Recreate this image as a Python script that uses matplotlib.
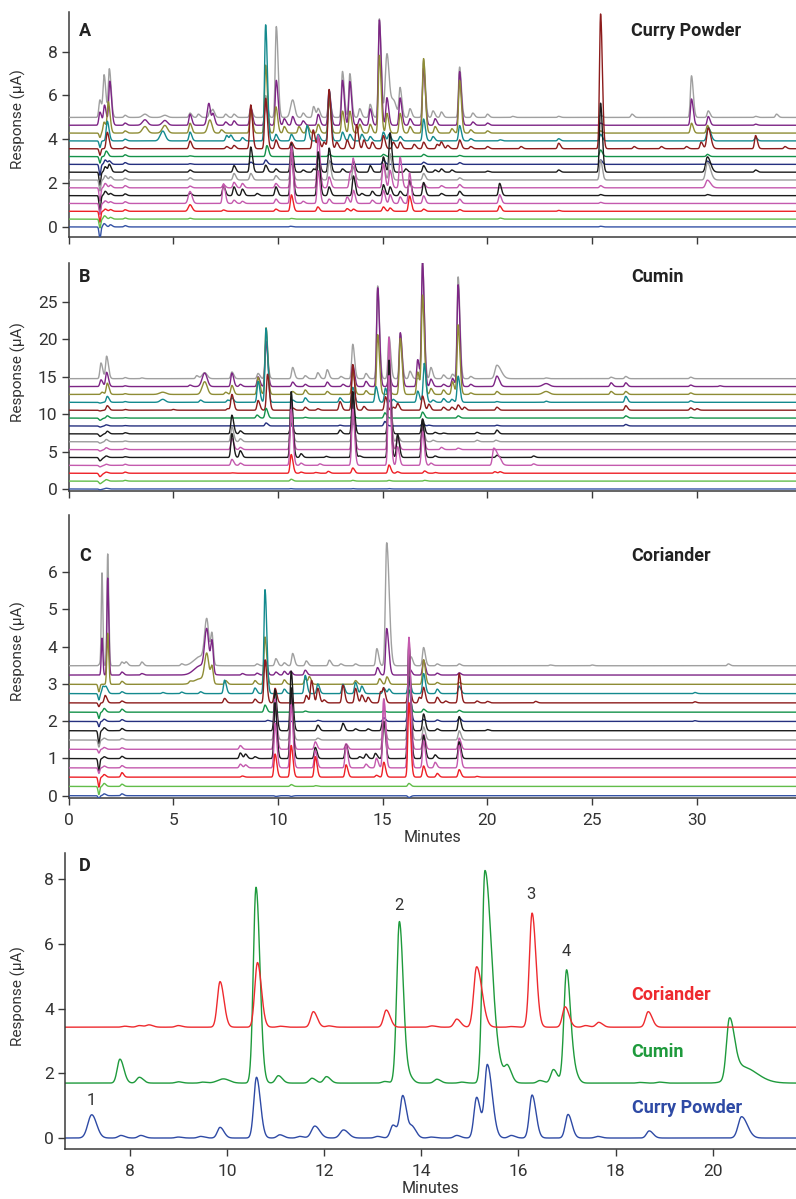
import numpy as np
import matplotlib
matplotlib.use("Agg")
import matplotlib.pyplot as plt

plt.rcParams['font.family'] = ['Roboto', 'DejaVu Sans']

# ---------------- data (peak tables) ----------------
# each peak: (retention time [min], height [uA], optional left sigma, optional right sigma)
TRACE_COLORS = ['#3553a5', '#62bd4a', '#ee2026', '#c45aae', '#1b1b1b', '#c45aae', '#9c9c9c',
                '#1b1b1b', '#25307f', '#14924a', '#8c1c1c', '#148a8e', '#8e8c35', '#7d2585', '#a0a0a0']

CURRY_OFFSET_STEP = 0.357
CURRY_TRACES = [
    [(1.5, -0.55, .04, .04), (1.7, 0.15), (2.0, 0.1), (2.7, 0.06), (10.6, 0.03), (25.4, 0.03)],
    [(1.5, -0.4, .04, .04), (1.72, 0.15), (2.0, 0.08), (2.7, 0.05), (5.8, 0.04), (10.64, 0.03), (20.6, 0.05)],
    [(1.5, -0.5, .04, .04), (1.75, 0.1), (2.0, 0.08), (2.7, 0.07), (5.8, 0.3, .08, .1), (7.4, 0.06), (9.9, 0.1),
     (10.64, 0.75), (11.9, 0.2), (13.3, 0.12), (13.6, 0.1), (15.03, 0.2), (15.35, 0.15), (16.28, 0.7),
     (16.95, 0.1), (18.67, 0.08), (20.58, 0.25), (23.4, 0.04)],
    [(1.5, -0.5, .04, .04), (1.75, 0.12), (2.0, 0.08), (2.7, 0.08), (5.8, 0.55, .08, .1), (7.4, 0.9), (7.9, 0.15),
     (8.3, 0.1), (9.9, 0.2), (10.64, 2.4), (11.2, 0.1), (11.92, 1.5), (12.44, 0.2), (13.3, 0.3), (13.6, 0.6),
     (14.5, 0.15), (15.03, 0.6), (15.35, 0.4), (15.83, 0.3), (16.28, 1.4), (16.95, 0.35), (18.67, 0.2),
     (20.58, 0.4), (25.4, 0.05)],
    [(1.5, -0.75, .04, .04), (1.75, 0.2), (2.0, 0.1), (2.7, 0.08), (5.8, 0.12), (7.4, 0.45), (7.9, 0.4), (8.3, 0.3),
     (9.0, 0.1), (9.9, 0.4), (10.64, 2.0), (11.92, 2.0), (12.44, 0.4), (13.6, 0.9), (14.0, 0.1), (14.5, 0.2),
     (15.03, 0.5), (15.35, 0.4), (15.83, 0.2), (16.28, 0.7), (16.95, 0.6), (17.8, 0.1), (18.67, 0.2),
     (20.58, 0.56), (25.4, 0.05), (30.5, 0.05)],
    [(1.5, -0.6, .04, .04), (1.75, 0.2), (2.0, 0.12), (2.7, 0.1), (5.8, 0.08), (7.4, 0.15), (7.9, 0.25), (8.3, 0.2),
     (9.9, 0.2), (10.64, 1.9), (11.92, 2.4), (12.44, 0.5), (13.45, 0.7), (13.6, 1.2), (15.03, 1.1), (15.35, 0.8),
     (15.83, 1.4), (16.28, 0.2), (16.95, 0.2), (17.8, 0.1), (18.67, 0.15), (25.4, 0.1), (30.5, 0.35, .08, .15)],
    [(1.5, -0.5, .04, .04), (1.75, 0.2), (2.0, 0.15), (2.7, 0.08), (5.8, 0.1), (7.9, 0.3), (8.7, 0.3), (9.9, 0.2),
     (10.64, 1.0), (11.92, 0.7), (12.44, 0.9), (13.6, 0.6), (15.03, 0.7), (15.35, 1.2), (16.95, 0.3),
     (18.67, 0.1), (25.4, 0.9), (30.5, 0.8, .08, .15)],
    [(1.5, -0.6, .04, .04), (1.75, 0.25), (1.95, 0.35), (2.7, 0.1), (5.8, 0.1), (7.9, 0.3), (8.7, 1.15),
     (9.41, 0.32), (9.9, 0.15), (10.64, 1.3), (11.2, 0.1), (11.7, 0.15), (11.92, 0.8), (12.44, 1.1),
     (13.08, 0.15), (13.6, 0.5), (14.4, 0.3), (15.03, 0.7), (15.35, 1.8), (16.1, 0.15), (16.95, 0.3),
     (17.5, 0.1), (17.8, 0.15), (18.3, 0.1), (20.0, 0.05), (23.4, 0.1), (25.4, 3.15), (30.5, 0.7, .08, .15),
     (32.8, 0.1)],
    [(1.5, -0.5, .04, .04), (1.75, 0.2), (1.95, 0.15), (2.7, 0.08), (5.8, 0.03), (8.7, 0.1), (9.41, 0.2),
     (12.44, 0.15), (15.03, 0.2), (16.95, 0.1), (18.67, 0.08), (25.4, 0.2), (30.5, 0.15)],
    [(1.5, -0.3, .04, .04), (1.8, 0.25), (2.7, 0.08), (5.8, 0.03), (9.47, 0.5), (12.44, 0.1), (15.03, 0.1),
     (16.95, 0.1), (18.67, 0.05), (25.4, 0.3), (30.5, 0.1)],
    [(1.5, -0.3, .04, .04), (1.85, 0.75), (2.7, 0.08), (5.8, 0.35), (7.55, 0.1), (7.9, 0.15), (8.7, 2.0),
     (9.41, 2.3), (9.9, 0.4), (10.64, 0.3), (11.68, 0.86), (11.92, 0.5), (12.2, 0.3), (12.44, 2.7), (12.8, 0.3),
     (13.3, 0.4), (13.75, 1.1), (14.1, 0.4), (14.5, 0.3), (15.03, 0.6), (15.5, 0.3), (15.83, 0.3), (16.5, 0.2),
     (16.95, 0.3), (17.6, 0.2), (17.8, 0.3), (18.1, 0.15), (18.67, 0.4), (19.2, 0.1), (20.0, 0.1), (21.6, 0.1),
     (23.4, 0.25), (25.4, 6.15), (27.0, 0.1), (28.3, 0.1), (29.5, 0.1), (30.2, 0.3), (30.54, 0.95, .07, .12),
     (32.8, 0.6), (34.2, 0.1)],
    [(1.5, -0.3, .04, .04), (1.85, 0.9), (2.7, 0.08), (4.5, 0.45, .12, .12), (5.8, 0.4), (7.55, 0.25),
     (7.75, 0.25), (8.3, 0.15), (9.41, 5.3), (9.9, 0.3), (10.64, 0.3), (11.39, 0.7), (11.92, 0.3), (12.44, 2.3),
     (13.08, 0.4), (13.43, 0.3), (14.0, 0.3), (14.4, 0.2), (15.03, 0.4), (15.3, 0.3), (15.83, 0.2),
     (16.95, 1.0), (17.4, 0.2), (18.67, 0.7), (19.2, 0.1), (20.6, 0.05), (23.4, 0.1), (25.4, 0.3),
     (30.54, 0.6, .07, .12), (32.8, 0.15)],
    [(1.5, -0.2, .04, .04), (1.7, 0.5), (1.9, 1.4), (2.7, 0.1), (3.65, 0.3, .12, .12), (4.6, 0.35, .12, .12),
     (5.8, 0.45), (6.75, 0.6, .1, .1), (7.3, 0.15), (8.7, 1.0), (9.41, 3.1), (9.9, 1.2), (10.3, 0.3),
     (11.0, 0.3), (11.4, 0.35), (11.92, 0.4), (12.44, 1.5), (13.08, 1.0), (13.43, 1.0), (13.9, 0.4),
     (14.4, 0.4), (14.84, 3.55), (15.2, 0.9), (15.83, 0.9), (16.3, 0.3), (16.95, 3.4), (17.5, 0.3),
     (18.3, 0.2), (18.67, 2.4), (19.2, 0.15), (20.0, 0.1), (25.4, 0.1), (29.74, 0.45), (30.5, 0.35)],
    [(1.5, 0.6), (1.72, 0.9), (1.97, 2.0), (2.7, 0.1), (3.65, 0.25, .12, .12), (4.6, 0.22, .12, .12),
     (5.8, 0.5), (6.7, 1.0, .08, .08), (6.9, 0.5), (7.5, 0.15), (7.9, 0.2), (8.7, 0.8), (9.41, 1.0),
     (9.92, 2.05), (10.3, 0.3), (10.7, 0.4), (11.2, 0.2), (11.92, 0.5), (12.44, 1.6), (13.08, 2.05),
     (13.43, 2.0), (13.9, 0.3), (14.4, 0.75), (14.84, 4.8), (15.2, 1.26), (15.83, 1.25), (16.3, 0.3),
     (16.95, 2.6), (17.5, 0.3), (18.67, 2.45), (19.3, 0.15), (20.0, 0.1), (25.4, 0.1), (29.74, 1.2),
     (30.54, 0.4), (32.8, 0.05)],
    [(1.5, 0.8), (1.7, 1.9), (1.95, 2.2), (2.7, 0.1), (3.65, 0.15, .12, .12), (4.6, 0.1, .12, .12),
     (5.8, 0.2), (6.2, 0.15), (6.75, 0.3), (6.9, 0.3), (7.5, 0.15), (7.9, 0.15), (8.7, 0.4), (9.41, 1.0),
     (9.92, 4.15), (10.7, 0.8, .1, .1), (11.2, 0.2), (11.7, 0.5), (11.92, 0.4), (12.44, 1.0), (13.08, 2.1),
     (13.43, 2.0), (13.9, 0.4), (14.4, 0.6), (14.84, 4.5), (15.2, 2.8, .08, .1), (15.5, 0.8, .15, .15),
     (15.83, 1.3), (16.3, 0.4), (16.95, 2.6), (17.4, 0.3), (17.8, 0.25), (18.67, 2.3), (19.3, 0.2),
     (20.0, 0.15), (21.2, 0.05), (23.4, 0.05), (25.4, 0.1), (26.9, 0.15), (29.74, 1.9), (30.54, 0.3),
     (32.8, 0.05), (33.8, 0.15)],
]

CUMIN_OFFSET_STEP = 1.053
CUMIN_TRACES = [
    [(1.5, -0.1), (1.8, 0.1), (10.6, 0.05), (13.57, 0.05), (15.3, 0.05)],
    [(1.5, -0.35), (1.8, 0.2), (2.7, 0.1), (10.63, 0.25), (13.57, 0.1), (15.3, 0.1), (17.0, 0.1)],
    [(1.5, -0.45), (1.8, 0.15), (2.7, 0.15), (7.8, 0.05), (10.63, 2.5), (11.1, 0.15), (11.8, 0.1),
     (12.4, 0.25), (13.57, 0.7), (15.3, 1.1), (15.7, 0.2), (17.0, 0.3), (17.5, 0.1), (20.35, 0.2), (20.6, 0.2)],
    [(1.5, -0.2), (1.8, 0.15), (2.7, 0.15), (7.8, 0.8), (8.2, 0.3), (10.63, 7.5), (11.1, 0.3), (12.0, 0.2),
     (13.57, 7.5), (15.3, 12.0), (15.71, 2.5), (16.9, 4.5), (17.3, 0.3), (20.3, 2.3, .06, .2), (20.6, 0.3),
     (22.2, 0.2)],
    [(1.5, -0.45), (1.8, 0.2), (2.7, 0.1), (7.8, 3.2), (8.2, 0.9), (10.63, 8.8), (11.1, 0.5), (12.3, 0.15),
     (13.57, 8.8), (13.9, 0.2), (15.3, 13.0), (15.71, 3.1), (16.9, 5.0), (17.5, 0.2), (20.45, 0.3), (22.2, 0.2)],
    [(1.5, -0.2), (1.8, 0.25), (2.7, 0.15), (7.8, 1.5), (8.2, 0.3), (10.63, 6.5), (13.57, 6.0), (15.3, 15.0),
     (15.71, 1.5), (16.9, 3.0), (17.8, 0.3), (18.6, 0.2)],
    [(1.5, -0.2), (1.8, 0.3), (2.7, 0.1), (7.8, 2.0), (8.2, 0.4), (10.63, 3.0), (13.57, 3.0), (15.3, 12.0),
     (15.71, 0.8), (16.9, 2.0), (17.4, 0.2), (19.5, 0.2), (20.4, 0.2)],
    [(1.5, -0.35), (1.85, 0.35), (2.7, 0.15), (7.8, 2.5), (8.2, 0.4), (10.63, 1.5), (12.96, 0.5), (13.57, 5.6),
     (15.3, 10.0), (16.9, 2.0), (17.5, 0.2), (17.9, 0.1), (19.5, 0.2), (20.45, 0.5)],
    [(1.5, -0.15), (1.8, 0.15), (2.7, 0.05), (9.43, 0.4), (12.96, 0.1), (13.57, 0.3), (15.1, 0.6),
     (16.9, 0.3), (17.2, 0.1), (20.45, 0.1), (26.6, 0.2)],
    [(1.5, -0.3), (1.85, 0.3), (2.7, 0.05), (9.0, 0.4), (9.43, 1.3), (11.3, 0.1), (13.57, 0.4), (15.1, 0.7),
     (16.9, 0.8), (18.6, 0.3), (26.6, 0.3), (29.7, 0.1)],
    [(1.5, -0.1), (1.85, 0.6), (2.7, 0.1), (5.0, 0.1), (7.6, 0.2), (7.8, 2.1), (9.05, 1.3), (9.5, 4.8),
     (10.7, 0.3), (11.3, 0.4), (11.9, 0.2), (12.96, 1.15), (13.57, 6.1), (14.1, 0.5), (15.13, 1.8),
     (15.5, 0.4), (15.71, 0.9), (16.9, 1.9), (17.2, 0.8), (17.9, 0.4), (18.3, 0.4), (18.6, 0.7), (18.9, 0.4),
     (20.45, 0.4), (26.6, 0.6), (29.7, 0.3), (30.0, 0.2)],
    [(1.5, -0.1), (1.85, 0.8), (2.7, 0.1), (4.5, 0.4, .12, .12), (6.3, 0.3), (7.6, 0.3), (7.8, 0.6),
     (9.05, 2.8), (9.43, 9.9), (10.7, 0.3), (11.3, 0.6), (12.96, 0.6), (13.57, 2.0), (14.68, 2.1),
     (15.13, 1.9), (15.5, 0.4), (16.67, 1.5), (16.98, 5.2), (17.4, 0.3), (17.9, 0.5), (18.3, 0.4),
     (18.6, 3.5), (20.45, 0.1), (22.8, 0.15), (26.6, 0.8), (29.7, 0.2)],
    [(1.6, 0.3), (1.85, 1.5), (2.7, 0.1), (4.5, 0.3, .15, .15), (6.5, 1.7, .12, .12), (7.5, 0.3), (7.8, 1.2),
     (9.05, 2.3), (9.43, 8.9), (10.7, 0.4), (11.3, 0.6), (12.35, 0.4), (13.57, 3.0), (14.2, 0.5),
     (14.76, 8.0), (15.3, 0.6), (15.84, 7.5), (16.67, 3.0), (16.9, 13.2), (17.3, 0.8), (17.9, 0.6),
     (18.33, 1.7), (18.6, 9.3), (19.2, 0.2), (20.45, 0.4), (22.8, 0.4, .15, .15), (25.9, 0.4), (26.6, 0.4),
     (29.7, 0.2)],
    [(1.55, 0.9), (1.82, 1.9), (2.7, 0.1), (5.8, 0.2), (6.5, 1.8, .12, .12), (7.8, 1.8), (8.2, 0.3),
     (9.05, 1.3), (9.43, 6.0), (10.7, 0.6), (11.3, 0.3), (12.35, 0.6), (13.1, 0.3), (13.57, 2.9), (14.2, 0.7),
     (14.76, 13.2), (15.3, 1.5), (15.84, 7.2), (16.67, 3.6), (16.9, 16.5), (17.3, 1.0), (17.9, 0.3),
     (18.33, 1.1), (18.6, 13.6), (19.2, 0.3), (20.45, 1.4, .08, .12), (22.8, 0.4, .15, .15), (25.9, 0.5),
     (26.6, 0.5), (29.7, 0.2), (31.1, 0.1)],
    [(1.55, 2.1), (1.82, 3.0), (2.7, 0.15), (3.5, 0.1), (6.12, 0.4), (6.5, 0.8, .12, .12), (7.8, 0.9),
     (9.05, 0.7), (9.43, 5.0), (10.7, 1.5), (11.3, 0.4), (11.9, 0.8), (12.35, 1.2), (13.0, 0.3), (13.57, 4.6),
     (14.2, 0.7), (14.76, 12.4), (15.3, 5.6), (15.84, 6.0), (16.3, 1.0), (16.9, 15.5), (17.3, 1.5),
     (17.9, 0.5), (18.33, 0.6), (18.6, 13.6), (19.2, 0.3), (20.45, 1.8, .09, .2), (22.8, 0.1), (25.9, 0.2),
     (26.6, 0.3), (29.7, 0.2)],
]

CORIANDER_OFFSET_STEP = 0.249
CORIANDER_TRACES = [
    [(1.45, -0.08, .04, .04), (1.7, 0.05), (2.55, 0.05), (9.9, -0.02), (10.63, -0.02), (16.25, -0.05)],
    [(1.45, -0.22, .04, .04), (1.7, 0.08), (2.55, 0.06), (10.63, 0.05), (11.8, 0.02), (16.25, 0.08)],
    [(1.45, -0.27, .04, .04), (1.7, 0.07), (2.55, 0.12), (8.3, 0.03), (9.86, 0.62), (10.63, 0.85),
     (11.78, 0.55), (13.25, 0.33), (14.7, 0.05), (15.05, 0.4), (16.25, 2.0), (16.95, 0.3), (17.6, 0.1),
     (18.65, 0.2), (19.5, 0.02)],
    [(1.45, -0.15, .04, .04), (1.7, 0.05), (2.55, 0.06), (8.2, 0.1), (8.45, 0.08), (9.86, 1.2), (10.63, 1.7),
     (11.78, 0.47), (13.25, 0.6), (14.2, 0.1), (14.7, 0.26), (15.05, 1.85), (16.25, 3.5), (16.95, 0.73),
     (17.5, 0.15), (18.65, 0.6)],
    [(1.45, -0.33, .04, .04), (1.7, 0.05), (2.55, 0.06), (8.2, 0.15), (8.45, 0.12), (8.9, 0.05), (9.86, 1.5),
     (10.63, 1.9), (11.78, 0.3), (13.25, 0.36), (13.9, 0.05), (14.2, 0.12), (14.65, 0.14), (15.05, 1.0),
     (16.25, 3.1), (16.95, 0.62), (17.5, 0.1), (18.65, 0.45)],
    [(1.45, -0.1, .04, .04), (1.7, 0.05), (2.55, 0.04), (8.2, 0.1), (9.86, 1.35), (10.63, 1.5), (11.78, 0.2),
     (13.25, 0.15), (15.05, 1.35), (16.25, 3.0), (16.95, 0.4), (18.65, 0.3)],
    [(1.45, -0.19, .04, .04), (1.7, 0.05), (2.55, 0.04), (9.86, 0.8), (10.63, 1.2), (11.9, 0.05),
     (15.05, 0.5), (16.25, 2.5), (16.95, 0.35), (18.65, 0.25)],
    [(1.45, -0.35, .04, .04), (1.7, 0.08), (2.55, 0.06), (9.86, 1.1), (10.63, 1.6), (11.9, 0.15), (13.1, 0.2),
     (13.7, 0.05), (14.3, 0.05), (15.0, 0.25), (16.25, 1.8), (16.95, 0.45), (17.6, 0.05), (18.65, 0.38),
     (20.0, 0.03)],
    [(1.45, -0.14, .04, .04), (1.7, 0.06), (2.55, 0.05), (9.5, 0.03), (11.9, 0.03), (15.05, 0.1),
     (16.25, 1.2), (16.95, 0.05), (17.6, 0.04), (18.65, 0.1), (29.9, 0.02)],
    [(1.45, -0.17, .04, .04), (1.7, 0.1), (2.55, 0.08), (9.38, 0.19), (11.3, 0.03), (15.05, 0.04),
     (16.25, 0.6), (16.95, 0.08), (18.65, 0.05)],
    [(1.45, -0.1, .04, .04), (1.75, 0.2), (2.55, 0.05), (7.45, 0.12), (8.9, 0.1), (9.38, 1.15), (9.86, 0.39),
     (11.35, 0.2), (11.6, 0.6), (11.9, 0.39), (12.2, 0.08), (13.1, 0.48), (13.7, 0.39), (14.0, 0.21),
     (14.3, 0.15), (14.9, 0.3), (15.05, 0.34), (16.25, 0.7), (16.75, 0.15), (16.95, 0.41), (17.6, 0.15),
     (18.0, 0.05), (18.65, 0.79), (19.5, 0.05), (20.0, 0.04), (22.3, 0.04), (29.9, 0.03)],
    [(1.45, -0.17, .04, .04), (1.65, 0.2), (1.8, 0.15), (2.55, 0.05), (4.5, 0.03), (5.4, 0.04), (6.3, 0.05),
     (7.45, 0.36), (8.9, 0.15), (9.38, 2.79), (10.3, 0.12), (11.3, 0.49), (11.9, 0.26), (13.1, 0.25),
     (13.7, 0.3), (14.0, 0.2), (15.05, 0.15), (15.3, 0.12), (16.25, 0.4), (16.95, 0.54), (17.6, 0.12),
     (18.65, 0.2), (29.9, 0.03)],
    [(1.45, -0.2, .04, .04), (1.87, 1.37, .04, .05), (2.55, 0.08), (5.8, 0.05), (6.3, 0.15, .3, .3),
     (6.6, 0.75, .1, .1), (6.85, 0.45, .06, .06), (7.5, 0.1), (8.9, 0.1), (9.38, 1.27), (10.3, 0.12),
     (11.3, 0.15), (11.5, 0.2), (13.7, 0.1), (14.85, 0.15), (15.2, 0.2), (16.95, 0.66), (17.6, 0.05),
     (18.65, 0.05)],
    [(1.6, 0.99, .035, .04), (1.87, 2.6, .035, .05), (2.55, 0.08), (3.5, 0.04), (6.3, 0.25, .3, .3),
     (6.6, 1.1, .1, .1), (6.85, 0.85, .06, .06), (8.3, 0.04), (9.0, 0.05), (9.4, 0.4), (9.9, 0.08),
     (10.3, 0.1), (10.6, 0.1), (11.3, 0.13), (14.75, 0.2), (15.19, 1.25, .05, .1), (16.3, 0.15),
     (16.95, 0.4), (17.6, 0.05), (18.65, 0.06)],
    [(1.5, 0.05), (1.6, 2.47, .035, .04), (1.87, 3.0, .035, .05), (2.55, 0.1), (2.75, 0.1), (3.5, 0.1),
     (5.4, 0.05), (6.3, 0.25, .3, .3), (6.6, 1.12, .1, .1), (6.85, 0.8, .06, .06), (9.0, 0.05), (9.9, 0.19),
     (10.3, 0.08), (10.7, 0.33), (11.35, 0.13), (12.45, 0.15), (13.0, 0.05), (13.7, 0.05), (14.72, 0.46),
     (15.19, 3.3, .06, .12), (16.35, 0.24), (16.95, 0.49), (17.6, 0.05), (18.65, 0.05), (23.0, 0.02),
     (25.0, 0.02), (31.5, 0.05)],
]

# Panel D: overlay of the three spices
D_NAMES = ['Curry Powder', 'Cumin', 'Coriander']
D_COLORS = ['#2e4aa5', '#1e9a3c', '#ee2a2e']
D_BASELINES = [0.0, 1.7, 3.43]
D_CURRY = [(7.22, 0.72, .08, .1), (7.82, 0.08), (8.23, 0.08), (9.0, 0.03), (9.46, 0.05), (9.86, 0.33),
           (10.61, 1.88), (11.09, 0.1), (11.5, 0.05), (11.81, 0.37, .07, .1), (12.4, 0.25, .07, .1),
           (13.1, 0.05), (13.42, 0.4), (13.62, 1.3), (13.82, 0.32), (14.2, 0.03), (14.73, 0.08),
           (15.14, 1.26), (15.36, 2.25, .055, .1), (15.85, 0.08), (16.28, 1.33), (17.02, 0.73), (17.63, 0.05),
           (18.69, 0.22), (20.59, 0.66, .07, .12)]
D_CUMIN = [(7.8, 0.74), (8.2, 0.18), (9.0, 0.04), (9.5, 0.03), (9.93, 0.13, .12, .12), (10.6, 6.06),
           (11.06, 0.23), (11.75, 0.15), (12.05, 0.2), (13.25, 0.05), (13.55, 5.0), (13.75, 0.2),
           (14.32, 0.12), (14.83, 0.03), (15.31, 6.55, .055, .13), (15.55, 0.5, .1, .15), (15.78, 0.4),
           (16.44, 0.08), (16.72, 0.42), (16.99, 3.5), (17.15, 0.3), (18.5, 0.02), (18.9, 0.03),
           (20.34, 1.8, .06, .1), (20.6, 0.5, .2, .3)]
D_CORIANDER = [(7.9, 0.03), (8.2, 0.05), (8.4, 0.07), (9.0, 0.05), (9.86, 1.41), (10.63, 2.0), (11.1, 0.03),
               (11.78, 0.48), (12.1, 0.04), (13.28, 0.53), (14.22, 0.04), (14.73, 0.25),
               (15.14, 1.87, .06, .11), (15.85, 0.02), (16.28, 3.53), (16.96, 0.63), (17.38, 0.05),
               (17.65, 0.15), (18.67, 0.48)]
D_PEAK_LABELS = ['1', '2', '3', '4']
D_PEAK_LABEL_POS = [(7.22, 0.93), (13.55, 6.95), (16.26, 7.3), (16.98, 5.55)]

# ---------------- helpers ----------------
def chromatogram(t, peaks, sl_def, sr_def):
    y = np.zeros_like(t)
    for p in peaks:
        rt, h = p[0], p[1]
        sl = p[2] if len(p) > 2 else sl_def
        sr = p[3] if len(p) > 3 else sr_def
        s = np.where(t < rt, sl, sr)
        y += h * np.exp(-0.5 * ((t - rt) / s) ** 2)
    return y

FIG_W, FIG_H = 796, 1199
fig = plt.figure(figsize=(FIG_W / 100, FIG_H / 100), dpi=100)

def add_axes(left, right, top, bottom):
    return fig.add_axes([left / FIG_W, 1 - bottom / FIG_H, (right - left) / FIG_W, (bottom - top) / FIG_H])

TXT = '#333333'
SPINE = '#3a3a3a'

def style(ax):
    for s in ['top', 'right']:
        ax.spines[s].set_visible(False)
    for s in ['left', 'bottom']:
        ax.spines[s].set_color(SPINE)
        ax.spines[s].set_linewidth(1.1)
    ax.tick_params(direction='out', length=5, width=1.0, color=SPINE, labelcolor=TXT, labelsize=12.5, pad=3)

t_full = np.linspace(0, 34.73, 7000)

panels = [
    ('A', 'Curry Powder', CURRY_TRACES, CURRY_OFFSET_STEP, (12, 237), (-0.46, 9.81), [0, 2, 4, 6, 8]),
    ('B', 'Cumin', CUMIN_TRACES, CUMIN_OFFSET_STEP, (263, 491), (-0.27, 30.2), [0, 5, 10, 15, 20, 25]),
    ('C', 'Coriander', CORIANDER_TRACES, CORIANDER_OFFSET_STEP, (515, 798), (-0.062, 7.53), [0, 1, 2, 3, 4, 5, 6]),
]

for idx, (letter, title, traces, step, (top, bottom), ylim, yticks) in enumerate(panels):
    ax = add_axes(68.5, 796, top, bottom)
    style(ax)
    for i, peaks in enumerate(traces):
        y = i * step + chromatogram(t_full, peaks, 0.05, 0.085)
        ax.plot(t_full, y, color=TRACE_COLORS[i], lw=1.0, zorder=100 - i, solid_joinstyle='round')
    ax.set_xlim(0, 34.73)
    ax.set_ylim(*ylim)
    ax.set_yticks(yticks)
    ax.set_xticks([0, 5, 10, 15, 20, 25, 30])
    if idx < 2:
        ax.set_xticklabels([])
    else:
        ax.tick_params(axis='x', pad=6)
        ax.set_xlabel('Minutes', fontsize=11.5, color=TXT, labelpad=1)
    ly = {0: 31, 1: 277, 2: 556}[idx]
    fig.text(79 / FIG_W, 1 - ly / FIG_H, letter, fontsize=13, fontweight='bold', color='#222222',
             ha='left', va='center')
    fig.text(631 / FIG_W, 1 - ly / FIG_H, title, fontsize=13, fontweight='bold', color='#222222',
             ha='left', va='center')
    fig.text(18 / FIG_W, 1 - ((top + bottom) / 2 - 5) / FIG_H, 'Response (µA)', rotation=90, fontsize=11,
             color=TXT, ha='center', va='center')

# Panel D
axd = add_axes(65, 796, 853, 1149)
style(axd)
t_d = np.linspace(6.67, 21.71, 5000)
for i, (peaks, col, base) in enumerate(zip([D_CURRY, D_CUMIN, D_CORIANDER], D_COLORS, D_BASELINES)):
    y = base + chromatogram(t_d, peaks, 0.055, 0.08)
    axd.plot(t_d, y, color=col, lw=1.0)
axd.set_xlim(6.67, 21.71)
axd.set_ylim(-0.34, 8.82)
axd.set_xticks([8, 10, 12, 14, 16, 18, 20])
axd.set_yticks([0, 2, 4, 6, 8])
axd.tick_params(axis='x', pad=6)
axd.set_xlabel('Minutes', fontsize=11.5, color=TXT, labelpad=1)
for lab, (px, py) in zip(D_PEAK_LABELS, D_PEAK_LABEL_POS):
    axd.text(px, py, lab, fontsize=12, color=TXT, ha='center', va='bottom')
for name, col, ty in zip(D_NAMES, D_COLORS, [0.93, 2.66, 4.43]):
    axd.text(18.33, ty, name, fontsize=13, fontweight='bold', color=col, ha='left', va='center')
fig.text(79 / FIG_W, 1 - 866 / FIG_H, 'D', fontsize=13, fontweight='bold', color='#222222',
         ha='left', va='center')
fig.text(18 / FIG_W, 1 - 996 / FIG_H, 'Response (µA)', rotation=90, fontsize=11, color=TXT,
         ha='center', va='center')

fig.savefig('out.png', dpi=100)
